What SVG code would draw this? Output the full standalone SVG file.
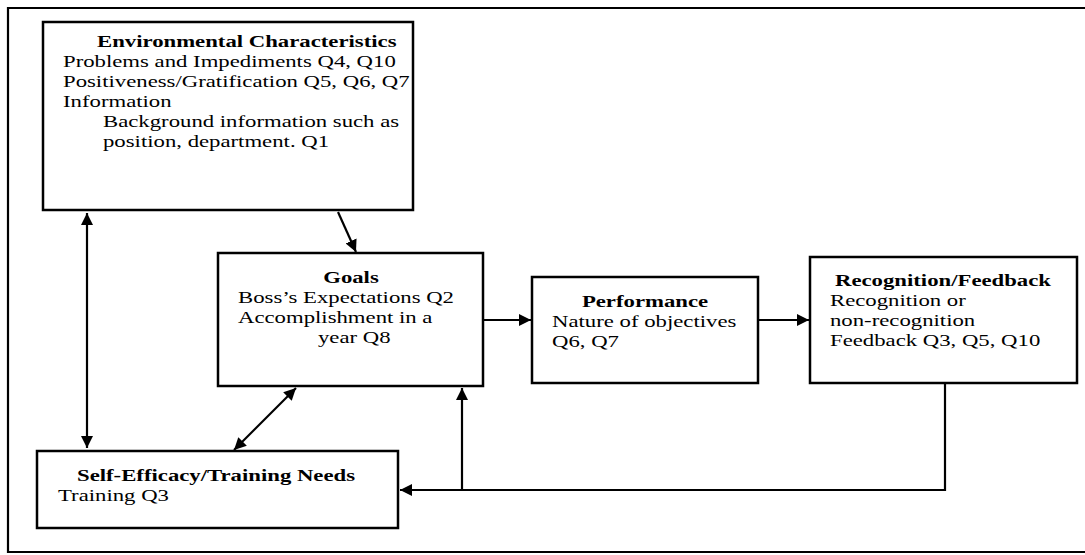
<svg xmlns="http://www.w3.org/2000/svg" width="1085" height="555" viewBox="0 0 1085 555">
<style>
.box{fill:#fff;stroke:#000;stroke-width:2.5}
.ln{fill:none;stroke:#000;stroke-width:2.2}
text{font-family:"Liberation Serif","Times New Roman",serif;font-size:17.5px;fill:#000}
.b{font-weight:bold}
.c{text-anchor:middle}
</style>
<defs>
<marker id="ah" viewBox="0 0 10 10" refX="10" refY="5" markerWidth="5.5" markerHeight="5.5" orient="auto-start-reverse" markerUnits="strokeWidth">
<path d="M0,0 L10,5 L0,10 z" fill="#000"/>
</marker>
</defs>
<rect width="1085" height="555" fill="#fff"/>
<path class="ln" d="M1085,8 H8 V552 H1085" id="frame"/>
<g id="connectors">
<line class="ln" x1="87" y1="213" x2="87" y2="448" marker-start="url(#ah)" marker-end="url(#ah)"/>
<line class="ln" x1="338" y1="212" x2="356" y2="252" marker-end="url(#ah)"/>
<line class="ln" x1="296" y1="388" x2="234" y2="450" marker-start="url(#ah)" marker-end="url(#ah)"/>
<line class="ln" x1="484" y1="320" x2="531" y2="320" marker-end="url(#ah)"/>
<line class="ln" x1="759" y1="320" x2="809" y2="320" marker-end="url(#ah)"/>
<polyline class="ln" points="945,384 945,490 400,490" marker-end="url(#ah)"/>
<line class="ln" x1="462" y1="490" x2="462" y2="388" marker-end="url(#ah)"/>
</g>
<g id="env">
<rect class="box" x="43" y="22" width="370" height="188"/>
<text class="b" transform="translate(97,47) scale(1.3,1)">Environmental Characteristics</text>
<text transform="translate(63,67) scale(1.3,1)">Problems and Impediments Q4, Q10</text>
<text transform="translate(63,87) scale(1.3,1)">Positiveness/Gratification Q5, Q6, Q7</text>
<text transform="translate(63,107) scale(1.3,1)">Information</text>
<text transform="translate(103,127) scale(1.3,1)">Background information such as</text>
<text transform="translate(103,147) scale(1.3,1)">position, department. Q1</text>
</g>
<g id="goals">
<rect class="box" x="218" y="253" width="265" height="133"/>
<text class="b c" transform="translate(351,283) scale(1.3,1)">Goals</text>
<text transform="translate(238,303) scale(1.3,1)">Boss’s Expectations Q2</text>
<text transform="translate(238,323) scale(1.3,1)">Accomplishment in a</text>
<text transform="translate(318,343) scale(1.3,1)">year Q8</text>
</g>
<g id="performance">
<rect class="box" x="532" y="277" width="226" height="106"/>
<text class="b c" transform="translate(645,307) scale(1.3,1)">Performance</text>
<text transform="translate(552,327) scale(1.3,1)">Nature of objectives</text>
<text transform="translate(552,347) scale(1.3,1)">Q6, Q7</text>
</g>
<g id="recognition">
<rect class="box" x="810" y="257" width="267" height="126"/>
<text class="b" transform="translate(835,286) scale(1.3,1)">Recognition/Feedback</text>
<text transform="translate(830,306) scale(1.3,1)">Recognition or</text>
<text transform="translate(830,326) scale(1.3,1)">non-recognition</text>
<text transform="translate(830,346) scale(1.3,1)">Feedback Q3, Q5, Q10</text>
</g>
<g id="selfefficacy">
<rect class="box" x="37" y="451" width="361" height="77"/>
<text class="b" transform="translate(77,481) scale(1.3,1)">Self-Efficacy/Training Needs</text>
<text transform="translate(58,501) scale(1.3,1)">Training Q3</text>
</g>
</svg>
